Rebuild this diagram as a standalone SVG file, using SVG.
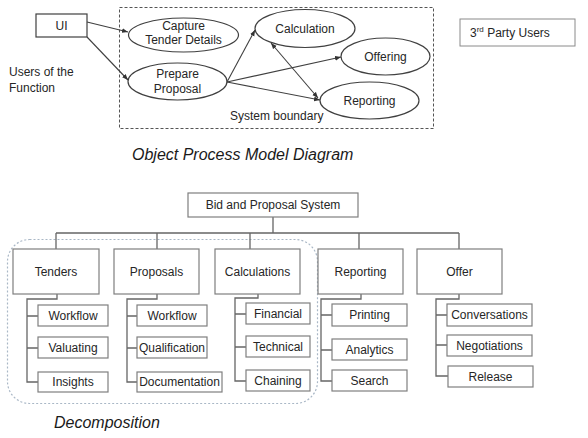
<svg xmlns="http://www.w3.org/2000/svg" width="588" height="438" viewBox="0 0 588 438">
<defs>
<marker id="ah" viewBox="0 0 10 10" refX="10" refY="5" markerWidth="6" markerHeight="6" markerUnits="userSpaceOnUse" orient="auto-start-reverse">
<path d="M0,1 L10,5 L0,9 z" fill="#333"/>
</marker>
<style>
text{font-family:"Liberation Sans",Arial,sans-serif;font-size:12px;fill:#262626}
.c{text-anchor:middle}
.it{font-style:italic;font-size:16px;fill:#1a1a1a}
.ell{fill:#fff;stroke:#404040;stroke-width:1.2}
.box{fill:#fff;stroke:#7f7f7f;stroke-width:1.2}
.arr{fill:none;stroke:#404040;stroke-width:1.1;marker-end:url(#ah)}
.tree{fill:none;stroke:#666;stroke-width:1.3}
</style>
</defs>
<rect x="0" y="0" width="588" height="438" fill="#fff"/>

<!-- System boundary -->
<rect id="boundary" x="119.5" y="7.5" width="314" height="121" fill="none" stroke="#555" stroke-width="1" stroke-dasharray="3,2"/>
<text x="230" y="120">System boundary</text>

<!-- Object process model nodes -->
<g id="ui"><rect x="36" y="14" width="51" height="23" fill="#fff" stroke="#404040" stroke-width="1.2"/><text class="c" x="61.5" y="30" font-size="13">UI</text></g>
<g id="users"><text x="9" y="76">Users of the</text><text x="9" y="92">Function</text></g>
<g id="capture"><ellipse class="ell" cx="183.5" cy="35" rx="55" ry="17"/><text class="c" x="183.5" y="30">Capture</text><text class="c" x="183.5" y="44">Tender Details</text></g>
<g id="prepare"><ellipse class="ell" cx="177.5" cy="81.5" rx="49.5" ry="18.5"/><text class="c" x="177.5" y="78">Prepare</text><text class="c" x="177.5" y="93">Proposal</text></g>
<g id="calculation"><ellipse class="ell" cx="305" cy="28.5" rx="50" ry="19"/><text class="c" x="305" y="33">Calculation</text></g>
<g id="offering"><ellipse class="ell" cx="385.5" cy="56.5" rx="44.5" ry="18.5"/><text class="c" x="385.5" y="61">Offering</text></g>
<g id="reporting"><ellipse class="ell" cx="369.5" cy="100.5" rx="49.5" ry="18.5"/><text class="c" x="369.5" y="105">Reporting</text></g>
<g id="third"><rect x="460" y="19" width="115" height="27" fill="#fff" stroke="#8a8a8a" stroke-width="1"/><text x="470" y="37" font-size="13">3<tspan font-size="8" dy="-5">rd</tspan><tspan dy="5"> Party Users</tspan></text></g>

<g id="connectors">
<line class="arr" x1="87" y1="22" x2="128" y2="32"/>
<line class="arr" x1="87" y1="37" x2="128" y2="80"/>
<line class="arr" x1="227" y1="82" x2="255" y2="30"/>
<line class="arr" x1="227" y1="82" x2="341" y2="57"/>
<line class="arr" x1="227" y1="82" x2="320" y2="100"/>
<line class="arr" x1="271" y1="43" x2="318" y2="98" style="marker-start:url(#ah)"/>
</g>

<text class="it" x="132" y="160">Object Process Model Diagram</text>

<!-- Decomposition -->
<rect id="scope" x="7.5" y="239.5" width="310" height="164" rx="22" ry="22" fill="none" stroke="#a9b7c6" stroke-width="1.2" stroke-dasharray="2,2"/>

<g id="tree-connectors" class="tree">
<path d="M273,217 V233 M56,233 H459 M56,233 V249 M157,233 V249 M250,233 V249 M359,233 V249 M459,233 V249"/>
<path d="M57,294 V299 H27 V382 H38 M27,316 H38 M27,348 H38"/>
<path d="M157,294 V299 H127 V382 H137 M127,316 H137 M127,348 H137"/>
<path d="M258,294 V298 H235 V381 H246 M235,314 H246 M235,347 H246"/>
<path d="M361,294 V299 H321 V381 H332 M321,315 H332 M321,350 H332"/>
<path d="M459,294 V299 H436 V376 H448 M436,315 H447 M436,345 H447"/>
</g>

<g id="bid"><rect class="box" x="188" y="193" width="170" height="24"/><text class="c" x="273" y="209">Bid and Proposal System</text></g>

<g id="tenders"><rect class="box" x="13" y="249" width="86" height="45"/><text class="c" x="56" y="276">Tenders</text></g>
<g id="proposals"><rect class="box" x="114" y="249" width="85" height="45"/><text class="c" x="156.5" y="276">Proposals</text></g>
<g id="calculations"><rect class="box" x="215" y="249" width="85" height="45"/><text class="c" x="257.5" y="276">Calculations</text></g>
<g id="reporting2"><rect class="box" x="318" y="249" width="85" height="45"/><text class="c" x="360.5" y="276">Reporting</text></g>
<g id="offer"><rect class="box" x="417" y="249" width="85" height="45"/><text class="c" x="459.5" y="276">Offer</text></g>

<g id="t-workflow"><rect class="box" x="38" y="305" width="70" height="21"/><text class="c" x="73" y="320">Workflow</text></g>
<g id="t-valuating"><rect class="box" x="38" y="337" width="70" height="21"/><text class="c" x="73" y="352">Valuating</text></g>
<g id="t-insights"><rect class="box" x="38" y="372" width="70" height="20"/><text class="c" x="73" y="386">Insights</text></g>

<g id="p-workflow"><rect class="box" x="137" y="305" width="70" height="21"/><text class="c" x="172" y="320">Workflow</text></g>
<g id="p-qualification"><rect class="box" x="137" y="337" width="70" height="21"/><text class="c" x="172" y="352">Qualification</text></g>
<g id="p-documentation"><rect class="box" x="137" y="372" width="85" height="20"/><text class="c" x="179.5" y="386">Documentation</text></g>

<g id="c-financial"><rect class="box" x="246" y="303" width="64" height="21"/><text class="c" x="278" y="318">Financial</text></g>
<g id="c-technical"><rect class="box" x="246" y="336" width="64" height="21"/><text class="c" x="278" y="351">Technical</text></g>
<g id="c-chaining"><rect class="box" x="246" y="370" width="64" height="21"/><text class="c" x="278" y="385">Chaining</text></g>

<g id="r-printing"><rect class="box" x="332" y="304" width="75" height="22"/><text class="c" x="369.5" y="319">Printing</text></g>
<g id="r-analytics"><rect class="box" x="332" y="339" width="75" height="21"/><text class="c" x="369.5" y="354">Analytics</text></g>
<g id="r-search"><rect class="box" x="332" y="370" width="75" height="21"/><text class="c" x="369.5" y="385">Search</text></g>

<g id="o-conversations"><rect class="box" x="447" y="304" width="85" height="22"/><text class="c" x="489.5" y="319">Conversations</text></g>
<g id="o-negotiations"><rect class="box" x="447" y="335" width="85" height="21"/><text class="c" x="489.5" y="350">Negotiations</text></g>
<g id="o-release"><rect class="box" x="448" y="366" width="85" height="21"/><text class="c" x="490.5" y="381">Release</text></g>

<text class="it" x="54" y="428">Decomposition</text>
</svg>
